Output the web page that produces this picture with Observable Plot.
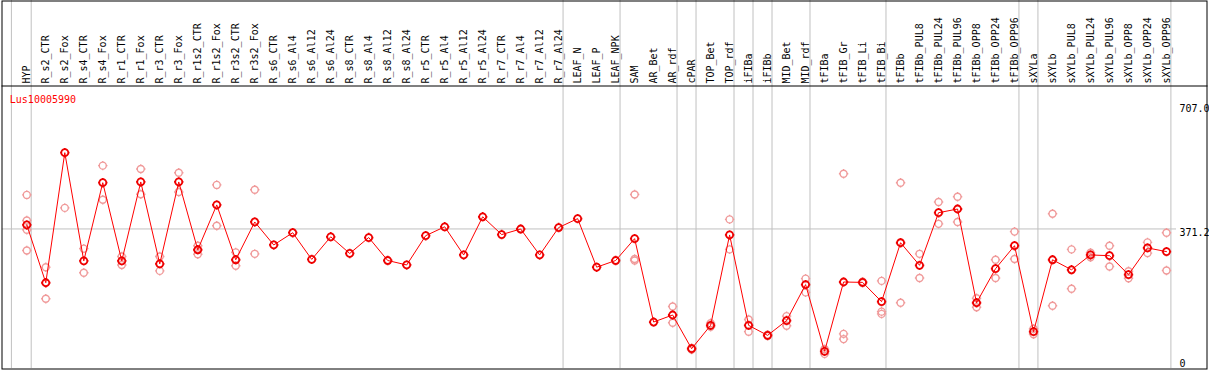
<!DOCTYPE html>
<html>
<head>
<meta charset="utf-8">
<script src="https://cdn.jsdelivr.net/npm/d3@7"></script>
<script src="https://cdn.jsdelivr.net/npm/@observablehq/plot@0.6"></script>
<style>
  html, body { margin: 0; padding: 0; background: #ffffff; }
  #chart svg { display: block; }
</style>
</head>
<body>
<div id="chart"></div>
<script>
const geneName = "Lus10005990";

const categories = [
  "HYP","R_s2_CTR","R_s2_Fox","R_s4_CTR","R_s4_Fox","R_r1_CTR","R_r1_Fox","R_r3_CTR","R_r3_Fox",
  "R_r1s2_CTR","R_r1s2_Fox","R_r3s2_CTR","R_r3s2_Fox","R_s6_CTR","R_s6_Al4","R_s6_Al12","R_s6_Al24",
  "R_s8_CTR","R_s8_Al4","R_s8_Al12","R_s8_Al24","R_r5_CTR","R_r5_Al4","R_r5_Al12","R_r5_Al24",
  "R_r7_CTR","R_r7_Al4","R_r7_Al12","R_r7_Al24","LEAF_N","LEAF_P","LEAF_NPK","SAM","AR_Bet","AR_rdf",
  "cPAR","TOP_Bet","TOP_rdf","iFIBa","iFIBb","MID_Bet","MID_rdf","tFIBa","tFIB_Gr","tFIB_Li","tFIB_Bi",
  "tFIBb","tFIBb_PUL8","tFIBb_PUL24","tFIBb_PUL96","tFIBb_OPP8","tFIBb_OPP24","tFIBb_OPP96",
  "sXYLa","sXYLb","sXYLb_PUL8","sXYLb_PUL24","sXYLb_PUL96","sXYLb_OPP8","sXYLb_OPP24","sXYLb_OPP96"
];

const meanValues = [
  382, 226, 577, 285, 496, 285, 498, 277, 498,
  315, 436, 288, 390, 328, 361, 289, 350,
  305, 348, 286, 274, 353, 377, 301, 404,
  356, 371, 301, 375, 399, 268, 286, 345, 120, 139,
  48, 111, 355, 111, 84, 124, 221, 41, 228, 227, 175,
  334, 273, 415, 425, 172, 264, 326,
  94, 288, 261, 301, 299, 248, 320, 310
];

const replicateValues = [
  [463, 394, 369, 313], [268, 183], [428], [318, 253], [542, 450], [297, 274], [533, 465], [297, 258], [523, 471],
  [326, 303], [490, 380], [308, 272], [477, 304], [], [], [], [],
  [], [], [], [], [], [], [], [],
  [], [], [], [], [], [], [], [464, 290, 286], [], [162, 118],
  [50, 46], [117, 107], [397, 316], [127, 94], [86, 82], [136, 110], [237, 200], [34, 47], [520, 88, 74], [229, 225], [231, 148, 142],
  [496, 172], [304, 239], [444, 385], [458, 390], [184, 160], [288, 239], [364, 290],
  [102, 87], [412, 164], [316, 210], [295, 307], [326, 270], [257, 238], [335, 306], [361, 259]
];

// last category of each group (a grey separator follows it)
const groupEnds = ["HYP","R_r7_Al24","LEAF_NPK","AR_rdf","cPAR","TOP_rdf","iFIBa","iFIBb","MID_rdf","tFIB_Bi","tFIBb_OPP96","sXYLa","sXYLb_OPP96"];

const yTicks = [0, 371.2, 707.0];
const yTickLabels = ["0", "371.2", "707.0"];
const yGrid = [371.2];

const meanRows = categories.map((c, i) => ({cat: c, value: meanValues[i]}));
const repRows = categories.flatMap((c, i) => replicateValues[i].map(v => ({cat: c, value: v})));
const tickRows = yTicks.map((v, i) => ({value: v, label: yTickLabels[i]}));

// circle with four little spokes
const ring = {
  draw(ctx, size) {
    const r = Math.sqrt(size / Math.PI);
    ctx.moveTo(r, 0);
    ctx.arc(0, 0, r, 0, 2 * Math.PI);
    ctx.moveTo(0, -r); ctx.lineTo(0, -r - 1.2);
    ctx.moveTo(0, r); ctx.lineTo(0, r + 1.2);
    ctx.moveTo(-r, 0); ctx.lineTo(-r - 1.2, 0);
    ctx.moveTo(r, 0); ctx.lineTo(r + 1.2, 0);
  }
};

const W = 1209, H = 370;
const mL = 26.3, mR = 43, mT = 104, mB = 4;

const chart = Plot.plot({
  width: W,
  height: H,
  marginLeft: mL,
  marginRight: mR,
  marginTop: mT,
  marginBottom: mB,
  style: {fontFamily: "'DejaVu Sans Mono', monospace", fontSize: "10px", background: "#ffffff", color: "#000"},
  x: {type: "point", domain: categories, padding: 0, axis: null},
  y: {domain: [0, 707], axis: null},
  marks: [
    // grey group separators (full height)
    Plot.ruleX(groupEnds, {x: d => d, dx: 4.4, stroke: "#c0c0c0", strokeWidth: 1, insetTop: -mT, insetBottom: -2}),
    Plot.ruleX([categories[0]], {x: d => d, dx: -15.4, stroke: "#c0c0c0", strokeWidth: 1, insetTop: -mT, insetBottom: -2}),
    // horizontal grid line
    Plot.ruleY(yGrid, {y: d => d, stroke: "#c0c0c0", strokeWidth: 1, insetLeft: -24.5, insetRight: -10}),
    // outer border and header separator
    Plot.frame({stroke: "#000", strokeWidth: 1, insetLeft: -(mL - 1.5), insetRight: -(mR - 2.5), insetTop: -(mT - 0.5), insetBottom: -2.5}),
    Plot.frame({anchor: "top", stroke: "#000", strokeWidth: 1, insetTop: -18.5, insetLeft: -(mL - 1.5), insetRight: -(mR - 2.5)}),
    // column labels
    Plot.text(categories, {x: d => d, frameAnchor: "top", rotate: -90, textAnchor: "start", lineAnchor: "middle", dy: -21, fill: "#000"}),
    // gene name
    Plot.text([geneName], {frameAnchor: "top-left", textAnchor: "start", lineAnchor: "bottom", dx: -17, dy: -2, fill: "#ff0000"}),
    // y tick labels
    Plot.text(tickRows.filter(d => d.value > 0), {y: "value", text: "label", frameAnchor: "right", textAnchor: "start", lineAnchor: "top", dx: 13, dy: 0, fill: "#000"}),
    Plot.text(tickRows.filter(d => d.value === 0), {y: "value", text: "label", frameAnchor: "right", textAnchor: "start", lineAnchor: "bottom", dx: 13, dy: 0, fill: "#000"}),
    // replicate points
    Plot.dot(repRows, {x: "cat", y: "value", r: 3.5, symbol: ring, stroke: "#f09a9a", strokeWidth: 1.4, fill: "none"}),
    // mean line
    Plot.line(meanRows, {x: "cat", y: "value", stroke: "#ff0000", strokeWidth: 1, curve: "linear"}),
    // mean points
    Plot.dot(meanRows, {x: "cat", y: "value", r: 3.5, symbol: ring, stroke: "#ee0000", strokeWidth: 1.8, fill: "none"})
  ]
});

document.getElementById("chart").appendChild(chart);
</script>
</body>
</html>
